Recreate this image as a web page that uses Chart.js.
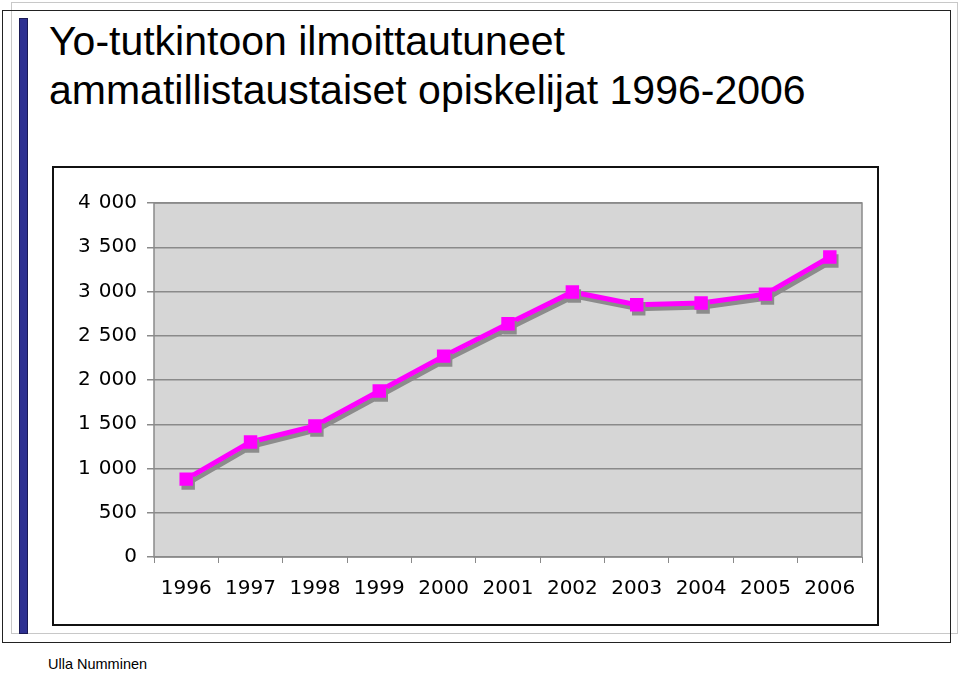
<!DOCTYPE html>
<html>
<head>
<meta charset="utf-8">
<script src="https://cdn.jsdelivr.net/npm/chart.js@4"></script>
<style>
  body { margin: 0; background: #fff; }
  #wrap { position: relative; width: 960px; height: 673px; overflow: hidden; }
  .box { position: absolute; box-sizing: border-box; }
  #title { position: absolute; left: 49px; top: 17px; font-family: "Liberation Sans", Arial, sans-serif;
           font-size: 41px; line-height: 49px; color: #000; white-space: nowrap; }
  #author { position: absolute; left: 48px; top: 656px; font-family: "Liberation Sans", Arial, sans-serif;
            font-size: 14.5px; color: #000; }
  canvas { position: absolute; left: 0; top: 0; }
</style>
</head>
<body>
<div id="wrap">
  <!-- kehykset -->
  <div class="box" style="left:11px;top:2px;width:947px;height:632px;border:1px solid #c8c8c8;"></div>
  <div class="box" style="left:2px;top:10px;width:949px;height:633px;border:1.5px solid #222;"></div>
  <div class="box" style="left:19px;top:18px;width:9px;height:616px;background:#2e3192;border:1px solid #1a1a55;"></div>
  <div class="box" style="left:52px;top:166px;width:827px;height:460px;border:2px solid #111;"></div>
  <div id="title">Yo-tutkintoon ilmoittautuneet<br>ammatillistaustaiset opiskelijat 1996-2006</div>
  <div id="author">Ulla Numminen</div>
  <canvas id="chart" width="960" height="673"></canvas>
</div>
<script>
// vuodet ja ilmoittautuneet
const years = ['1996', '1997', '1998', '1999', '2000', '2001', '2002', '2003', '2004', '2005', '2006'];
const students = [880, 1300, 1480, 1875, 2270, 2635, 2995, 2850, 2870, 2970, 3390];
const yTicks = [0, 500, 1000, 1500, 2000, 2500, 3000, 3500, 4000];

// harmaa tausta ja reunat piirtoalueelle
const plotBg = {
    id: 'plotBg',
    beforeDraw(chart) {
        const a = chart.chartArea;
        const ctx = chart.ctx;
        ctx.save();
        ctx.fillStyle = '#d6d6d6';
        ctx.fillRect(a.left, a.top, a.right - a.left, a.bottom - a.top);
        ctx.restore();
    },
    afterDraw(chart) {
        const a = chart.chartArea;
        const ctx = chart.ctx;
        ctx.save();
        ctx.strokeStyle = '#8a8a8a';
        ctx.lineWidth = 1.5;
        ctx.strokeRect(a.left, a.top, a.right - a.left, a.bottom - a.top);
        ctx.restore();
    }
};

// varjo viivan alle
const lineShadow = {
    id: 'lineShadow',
    beforeDatasetsDraw(chart) {
        const ctx = chart.ctx;
        ctx.save();
        ctx.shadowColor = '#8c8c8c';
        ctx.shadowOffsetX = 2;
        ctx.shadowOffsetY = 4;
        ctx.shadowBlur = 0;
    },
    afterDatasetsDraw(chart) {
        chart.ctx.restore();
    }
};

const config = {
    type: 'line',
    data: {
        labels: years,
        datasets: [{
            data: students,
            borderColor: '#ff00ff',
            backgroundColor: '#ff00ff',
            borderWidth: 5,
            pointStyle: 'rect',
            pointRadius: 9.5,
            pointBorderWidth: 0,
            pointBackgroundColor: '#ff00ff',
            tension: 0,
            fill: false
        }]
    },
    options: {
        responsive: false,
        animation: false,
        layout: { padding: { left: 54, top: 203, right: 98, bottom: 56 } },
        plugins: { legend: { display: false }, tooltip: { enabled: false }, title: { display: false } },
        scales: {
            x: {
                offset: true,
                grid: { offset: true, drawOnChartArea: false, drawTicks: true, tickLength: 6, color: '#8a8a8a', lineWidth: 1 },
                border: { display: false },
                ticks: { color: '#000', padding: 14, maxRotation: 0, autoSkip: false,
                         font: { family: 'DejaVu Sans', size: 20 } },
                afterFit(scale) { scale.height = 60; }
            },
            y: {
                min: 0,
                max: 4000,
                afterBuildTicks(scale) { scale.ticks = yTicks.map(v => ({ value: v })); },
                grid: { color: '#8a8a8a', lineWidth: 1.5, tickLength: 7 },
                border: { display: false },
                ticks: {
                    color: '#000', padding: 10,
                    font: { family: 'DejaVu Sans', size: 20 },
                    callback: v => String(v).replace(/\B(?=(\d{3})+(?!\d))/g, '\u2009\u2009')
                },
                afterFit(scale) { scale.width = 100; }
            }
        }
    },
    plugins: [plotBg, lineShadow]
};

new Chart(document.getElementById('chart'), config);
</script>
</body>
</html>
